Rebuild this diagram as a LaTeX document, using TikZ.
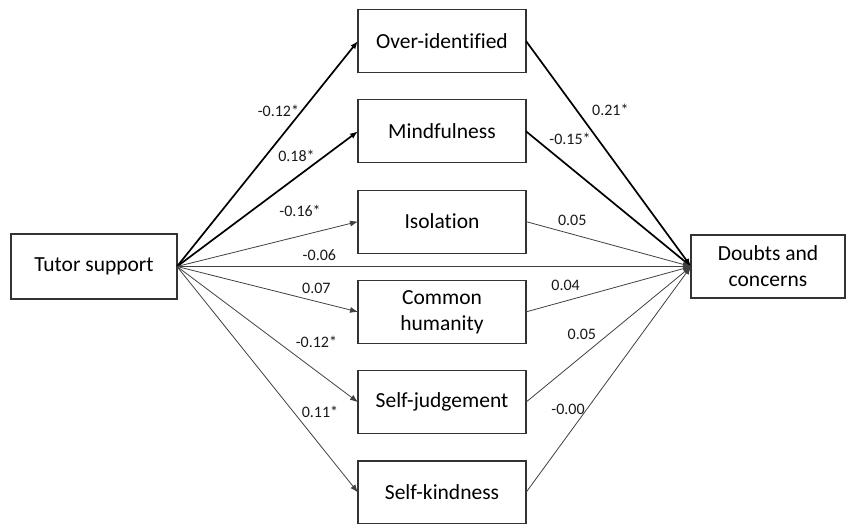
\documentclass[tikz,border=0pt]{standalone}
\usepackage{fontspec}
\setmainfont{Carlito}[Ligatures={NoCommon}]
\usetikzlibrary{arrows.meta, positioning}
\tikzset{%
>={Latex[width=6pt,length=8pt]},
  % Specifications for boxes and path coefficients:
            box/.style = {rectangle, draw=black!80, line width=1.1pt,
                            fill=white, minimum width=168pt, minimum
                            height=63pt, outer sep=0pt, align=center,
                            font=\fontsize{21.5}{26}\selectfont},
            strong/.style = {->, line width=1.7pt, black},
            weak/.style = {->, line width=0.8pt, black!75},
            coef/.style = {font=\fontsize{16}{19}\selectfont, inner sep=1pt, text=black!90}
}
\begin{document}
\begin{tikzpicture}[x=1pt, y=-1pt]
                        \useasboundingbox (0,0) rectangle (847,524);
                        \node[box] (over) at (442,41) {Over-identified};
                        \node[box] (mind)[below=27.3pt of over] {Mindfulness};
                        \node[box] (isol)[below=27.3pt of mind] {Isolation};
                        \node[box] (common)[below=27.3pt of isol] {Common\\humanity};
                        \node[box] (judge)[below=27.3pt of common] {Self-judgement};
                        \node[box] (kind)[below=27.3pt of judge] {Self-kindness};
                        \node[box, minimum width=166pt, minimum height=65pt] (tutor) at (94,266.5) {Tutor support};
                        \node[box, minimum width=154pt] (doubts) at (768,266.5) {Doubts and\\concerns};
                        % tutor support to the mediators
                        \draw[strong] (tutor.east) -- node[coef, pos=0.69, left=1pt]{-0.12*} (over.west);
                        \draw[strong] (tutor.east) -- node[coef, pos=0.66, above=13.5pt]{0.18*} (mind.west);
                        \draw[weak] (tutor.east) -- node[coef, pos=0.68, above=18pt]{-0.16*} (isol.west);
                        \draw[weak] (tutor.east) -- node[coef, pos=0.277, above=4pt]{-0.06} (doubts.west);
                        \draw[weak] (tutor.east) -- node[coef, pos=0.77, above=6pt]{0.07} (common.west);
                        \draw[weak] (tutor.east) -- node[coef, pos=0.77, above=22pt]{-0.12*} (judge.west);
                        \draw[weak] (tutor.east) -- node[coef, pos=0.643, right=7pt]{0.11*} (kind.west);
                        % mediators to doubts and concerns
                        \draw[strong] (over.east) -- node[coef, pos=0.305, right=14pt]{0.21*} (doubts.west);
                        \draw[strong] (mind.east) -- node[coef, pos=0.267, above=21pt]{-0.15*} (doubts.west);
                        \draw[weak] (isol.east) -- node[coef, pos=0.28, above=7pt]{0.05} (doubts.west);
                        \draw[weak] (common.east) -- node[coef, pos=0.24, above=9pt]{0.04} (doubts.west);
                        \draw[weak] (judge.east) -- node[coef, pos=0.5, left=11pt]{0.05} (doubts.west);
                        \draw[weak] (kind.east) -- node[coef, pos=0.37, left=1pt]{-0.00} (doubts.west);
                    \end{tikzpicture}
\end{document}
